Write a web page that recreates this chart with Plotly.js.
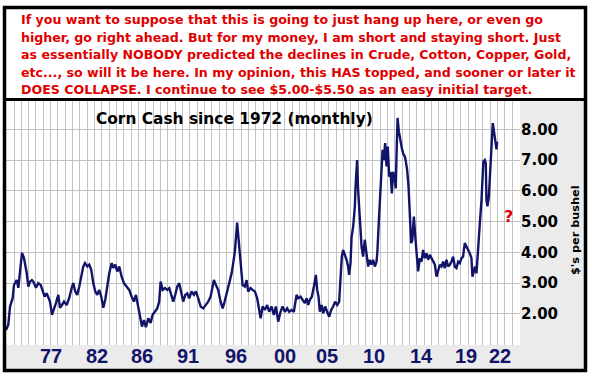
<!DOCTYPE html>
<html><head><meta charset="utf-8">
<script src="https://cdn.plot.ly/plotly-3.0.1.min.js"></script>
<style>html,body{margin:0;padding:0;background:#fff;overflow:hidden}</style>
</head><body><div id="chart" style="width:589px;height:376px"></div>
<script>
// ---- data ----
const years = [1972.9,1973.13,1973.31,1973.58,1973.71,1973.98,1974.15,1974.32,1974.52,1974.72,1974.86,1975.0,1975.16,1975.33,1975.53,1975.67,1975.94,1976.17,1976.42,1976.62,1976.82,1977.02,1977.36,1977.56,1977.76,1977.97,1978.2,1978.37,1978.57,1978.78,1979.05,1979.31,1979.56,1979.72,1979.92,1980.12,1980.33,1980.57,1980.73,1980.9,1981.14,1981.34,1981.54,1981.75,1981.95,1982.15,1982.35,1982.56,1982.76,1982.96,1983.16,1983.37,1983.61,1983.77,1983.97,1984.18,1984.38,1984.62,1984.86,1985.13,1985.39,1985.64,1985.87,1986.07,1986.3,1986.48,1986.68,1986.88,1987.08,1987.32,1987.56,1987.76,1988.03,1988.23,1988.43,1988.57,1988.78,1989.01,1989.24,1989.45,1989.65,1989.85,1990.05,1990.26,1990.46,1990.66,1990.86,1991.07,1991.27,1991.47,1991.71,1991.95,1992.15,1992.38,1992.63,1992.89,1993.16,1993.4,1993.64,1993.84,1993.97,1994.18,1994.41,1994.65,1994.86,1995.06,1995.26,1995.52,1995.77,1995.93,1996.1,1996.33,1996.54,1996.68,1996.88,1997.11,1997.29,1997.45,1997.69,1997.9,1998.13,1998.36,1998.56,1998.71,1998.91,1999.14,1999.37,1999.58,1999.82,2000.05,2000.26,2000.49,2000.73,2000.93,2001.17,2001.4,2001.6,2001.85,2002.08,2002.35,2002.52,2002.76,2002.96,2003.19,2003.37,2003.53,2003.7,2003.9,2004.11,2004.31,2004.44,2004.58,2004.71,2004.89,2005.05,2005.25,2005.45,2005.66,2005.86,2006.06,2006.26,2006.47,2006.67,2006.81,2006.94,2007.07,2007.25,2007.42,2007.58,2007.68,2007.82,2007.93,2008.09,2008.26,2008.33,2008.49,2008.59,2008.7,2008.77,2008.94,2009.1,2009.27,2009.44,2009.61,2009.78,2009.95,2010.11,2010.29,2010.46,2010.54,2010.69,2010.84,2010.97,2011.07,2011.2,2011.33,2011.47,2011.6,2011.74,2011.88,2012.01,2012.14,2012.28,2012.41,2012.48,2012.59,2012.72,2012.85,2013.02,2013.15,2013.33,2013.43,2013.56,2013.7,2013.83,2013.97,2014.09,2014.24,2014.39,2014.54,2014.67,2014.85,2015.02,2015.18,2015.35,2015.52,2015.69,2015.86,2016.03,2016.19,2016.37,2016.54,2016.7,2016.87,2017.04,2017.21,2017.38,2017.55,2017.71,2017.89,2018.06,2018.22,2018.39,2018.56,2018.73,2018.9,2019.07,2019.23,2019.4,2019.58,2019.74,2019.91,2020.08,2020.18,2020.32,2020.45,2020.59,2020.75,2020.92,2021.1,2021.2,2021.28,2021.43,2021.53,2021.6,2021.7,2021.84,2021.94,2022.04,2022.14,2022.24,2022.34,2022.44,2022.55,2022.62,2022.68];
const prices = [1.48,1.64,2.24,2.52,2.94,3.1,2.85,3.33,3.98,3.82,3.6,3.33,2.89,3.05,3.1,3.05,2.85,3.0,2.94,2.73,2.56,2.67,2.4,1.97,2.13,2.36,2.62,2.2,2.29,2.4,2.29,2.52,2.85,3.0,2.73,2.62,2.89,3.33,3.54,3.65,3.54,3.6,3.43,3.0,2.73,2.62,2.78,2.56,2.2,2.46,2.94,3.33,3.65,3.5,3.6,3.38,3.54,3.21,3.0,2.89,2.78,2.56,2.4,2.62,2.24,1.86,1.59,1.8,1.57,1.86,1.71,1.97,2.07,2.18,2.4,3.05,2.78,2.84,2.78,2.84,2.62,2.4,2.62,2.89,3.0,2.73,2.4,2.62,2.67,2.51,2.73,2.62,2.73,2.51,2.24,2.18,2.29,2.4,2.56,2.89,3.1,2.94,2.78,2.4,2.18,2.4,2.67,3.0,3.32,3.65,4.03,4.97,4.19,3.65,2.94,2.89,3.1,2.73,2.84,2.78,2.73,2.51,2.18,1.86,2.24,2.13,2.29,2.07,2.24,1.97,2.24,1.75,2.07,2.24,2.07,2.18,2.07,2.13,2.07,2.62,2.51,2.56,2.46,2.35,2.51,2.29,2.46,2.56,2.89,3.27,2.78,2.56,2.07,2.29,2.02,2.24,2.07,1.91,2.13,2.24,2.4,2.29,2.4,3.32,3.86,4.08,3.92,3.76,3.54,3.27,3.65,4.5,4.84,5.49,6.14,7.0,6.03,5.49,5.06,4.19,3.86,4.41,3.97,3.54,3.76,3.6,3.76,3.54,3.7,4.0,5.0,5.9,6.6,7.33,7.0,7.55,6.79,7.44,6.46,6.62,5.92,6.62,6.46,6.08,7.11,8.37,7.93,7.66,7.39,7.22,7.11,6.95,6.68,6.14,5.2,4.3,4.4,5.16,4.5,3.9,3.38,3.81,3.7,4.08,3.81,3.97,3.76,3.92,3.81,3.7,3.6,3.21,3.43,3.6,3.54,3.7,3.49,3.76,3.54,3.6,3.7,3.86,3.54,3.49,3.7,3.65,3.81,3.86,4.3,4.19,4.08,3.97,3.81,3.21,3.38,3.54,3.32,3.97,4.9,5.7,6.3,6.95,7.0,6.9,5.7,5.5,5.8,6.46,7.0,7.66,8.2,7.98,7.7,7.55,7.35,7.6];
const tickYears = [1977.43,1982.09,1986.71,1991.37,1996.17,2001.17,2005.47,2010.19,2015.02,2019.48,2023.02];
const tickLabels = ['77','82','86','91','96','00','05','10','14','19','22'];
const priceTicks = [2,3,4,5,6,7,8];
const priceTickLabels = ['2.00','3.00','4.00','5.00','6.00','7.00','8.00'];
const noteLines = [
  'If you want to suppose that this is going to just hang up here, or even go',
  'higher, go right ahead. But for my money, I am short and staying short. Just',
  'as essentially NOBODY predicted the declines in Crude, Cotton, Copper, Gold,',
  'etc..., so will it be here. In my opinion, this HAS topped, and sooner or later it',
  'DOES COLLAPSE. I continue to see $5.00-$5.50 as an easy initial target.'
];
const chartTitle = 'Corn Cash since 1972 (monthly)';
const unitLabel = "$'s per bushel";
const targetMark = '?';

// ---- layout geometry (pixels) ----
const W = 589, H = 376, L = 6, R = 520, T = 101, B = 345;
const px = p => (p - L) / (R - L);
const py = p => (B - p) / (B - T);
const RED = '#e00000', NAVY = '#12146a', GRID = '#c2c2c2', BAND = '#ebebeb';
const bold = (size, color, family) => ({family: family || 'DejaVu Sans, Verdana, sans-serif', size: size, color: color, weight: 'bold'});

const annotations = noteLines.map((t, i) => ({
  text: t, xref: 'paper', yref: 'paper', x: px(19), y: py(20 + i * 17.5),
  xanchor: 'left', yanchor: 'middle', showarrow: false, font: bold(12.6, RED)
}));
annotations.push({text: chartTitle, xref: 'paper', yref: 'paper', x: px(234.5), y: py(119),
  xanchor: 'center', yanchor: 'middle', showarrow: false, font: bold(15.4, '#000')});
annotations.push({text: unitLabel, xref: 'paper', yref: 'paper', x: px(575), y: py(230),
  xanchor: 'center', yanchor: 'middle', textangle: -90, showarrow: false, font: bold(11.3, '#000')});
annotations.push({text: targetMark, xref: 'paper', yref: 'paper', x: px(508.5), y: py(216),
  xanchor: 'center', yanchor: 'middle', showarrow: false, font: bold(16, RED)});
// year labels placed through the x scale
tickYears.forEach((yr, i) => annotations.push({
  text: tickLabels[i], xref: 'x', yref: 'paper', x: yr, y: py(355.5),
  xanchor: 'center', yanchor: 'middle', showarrow: false,
  font: bold(20, NAVY, 'Liberation Sans, Arial, sans-serif')
}));

const shapes = [
  {type: 'rect', xref: 'paper', yref: 'paper', x0: px(R), x1: px(586), y0: py(T), y1: py(370), fillcolor: BAND, line: {width: 0}, layer: 'below'},
  {type: 'rect', xref: 'paper', yref: 'paper', x0: px(5), x1: px(586), y0: py(B), y1: py(370), fillcolor: BAND, line: {width: 0}, layer: 'below'},
  {type: 'line', xref: 'paper', yref: 'paper', x0: px(4.5), x1: px(585.5), y0: py(99.5), y1: py(99.5), line: {color: '#000', width: 3}},
  {type: 'rect', xref: 'paper', yref: 'paper', x0: px(4.5), x1: px(585.5), y0: py(7.5), y1: py(370.5), line: {color: '#000', width: 3.5}, fillcolor: 'rgba(0,0,0,0)'}
];

const trace = {x: years, y: prices, type: 'scatter', mode: 'lines',
  line: {color: NAVY, width: 2.4}, hoverinfo: 'skip', showlegend: false};

const layout = {
  width: W, height: H, margin: {l: L, r: W - R, t: T, b: H - B, pad: 0},
  paper_bgcolor: '#ffffff', plot_bgcolor: '#ffffff', showlegend: false,
  xaxis: {range: [1972.9, 2025.0], tickmode: 'linear', tick0: 1972.971, dtick: 0.7423,
    showgrid: true, gridcolor: GRID, gridwidth: 1, showticklabels: false,
    zeroline: false, showline: false, ticks: ''},
  yaxis: {side: 'right', range: [0.99, 8.92], tickmode: 'array', tickvals: priceTicks, ticktext: priceTickLabels,
    showgrid: true, gridcolor: GRID, gridwidth: 1, zeroline: false, showline: false, ticks: '',
    tickfont: bold(15, '#000')},
  annotations: annotations, shapes: shapes
};

Plotly.newPlot('chart', [trace], layout, {staticPlot: true, displayModeBar: false});
</script></body></html>
